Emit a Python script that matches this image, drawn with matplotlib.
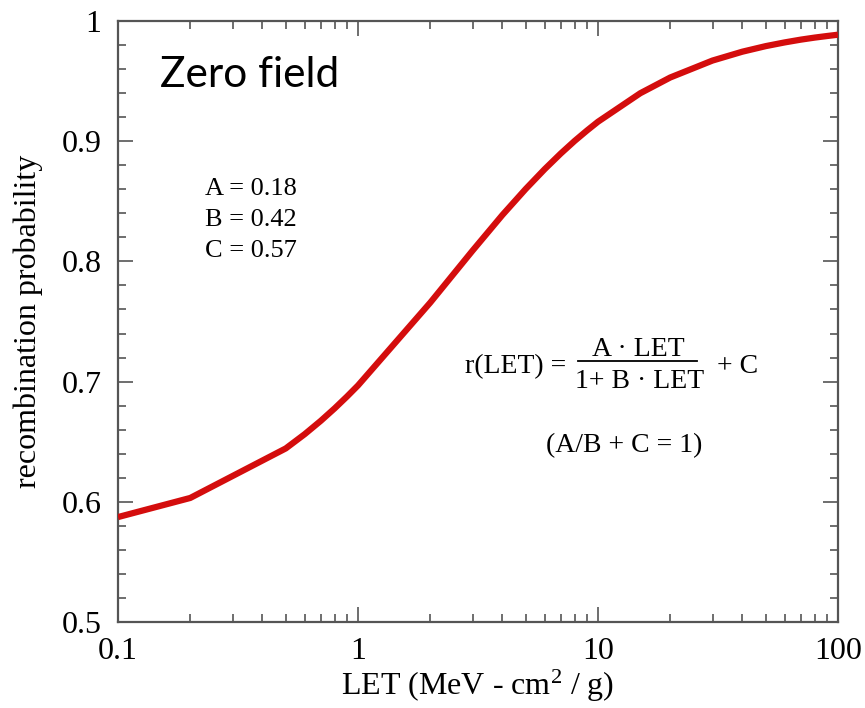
import matplotlib
matplotlib.use("Agg")
import matplotlib.pyplot as plt
from matplotlib.lines import Line2D
from matplotlib.ticker import FixedLocator, NullFormatter, MultipleLocator

# Data
let_values = [0.1, 0.2, 0.5, 0.6, 0.7, 0.8, 0.9, 1, 2, 3, 4, 5, 6, 7, 8, 9, 10,
              15, 20, 30, 40, 50, 60, 70, 80, 90, 100]
recomb_prob = [0.5873, 0.6032, 0.6444, 0.6563, 0.6674, 0.6778, 0.6876, 0.6968,
               0.7657, 0.8089, 0.8387, 0.8603, 0.8768, 0.8898, 0.9003, 0.9089,
               0.9162, 0.9399, 0.9530, 0.9671, 0.9745, 0.9791, 0.9822, 0.9845,
               0.9862, 0.9875, 0.9886]
x_ticks = [0.1, 1, 10, 100]
x_ticklabels = ["0.1", "1", "10", "100"]
y_ticks = [0.5, 0.6, 0.7, 0.8, 0.9, 1.0]
y_ticklabels = ["0.5", "0.6", "0.7", "0.8", "0.9", "1"]
param_lines = ["A = 0.18", "B = 0.42", "C = 0.57"]

plt.rcParams['mathtext.fontset'] = 'custom'
plt.rcParams['mathtext.rm'] = 'Liberation Serif'
plt.rcParams['mathtext.it'] = 'Liberation Serif:italic'

W, H = 865, 708
serif = 'Liberation Serif'
fig = plt.figure(figsize=(W / 100, H / 100), dpi=100)
ax = fig.add_axes([118/W, 1 - 622/H, (838-118)/W, (622-21)/H])

def fx(px):
    return px / W

def fy(py):
    return 1 - py / H

ax.plot(let_values, recomb_prob, color='#d40d0d', lw=4.5, solid_capstyle='butt', zorder=3)
ax.set_xscale('log')
ax.set_xlim(0.1, 100)
ax.set_ylim(0.5, 1.0)

ax.xaxis.set_major_locator(FixedLocator(x_ticks))
ax.set_xticklabels(x_ticklabels)
minors = [m * 10.0**e for e in (-1, 0, 1) for m in range(2, 10)]
ax.xaxis.set_minor_locator(FixedLocator(minors))
ax.xaxis.set_minor_formatter(NullFormatter())
ax.yaxis.set_major_locator(FixedLocator(y_ticks))
ax.set_yticklabels(y_ticklabels)
ax.yaxis.set_minor_locator(MultipleLocator(0.02))

axc = '#555555'
for s in ax.spines.values():
    s.set_color(axc)
    s.set_linewidth(1.6)
ax.tick_params(which='both', direction='in', top=True, right=True, color=axc, width=1.2)
ax.tick_params(which='major', length=11, labelsize=23)
ax.tick_params(axis='x', which='major', pad=11)
ax.tick_params(axis='y', which='major', pad=12)
ax.tick_params(which='minor', length=6)
for lab in ax.get_xticklabels() + ax.get_yticklabels():
    lab.set_fontfamily(serif)

ax.set_xlabel(r'LET (MeV - cm$^2$ / g)', fontsize=23, fontfamily=serif, labelpad=1)
ax.set_ylabel('recombination probability', fontsize=23, fontfamily=serif, labelpad=13)

fig.text(fx(160), fy(87), 'Zero field', fontsize=30.5, fontfamily='Lato',
         ha='left', va='baseline')
for txt, base in zip(param_lines, [195, 226, 257]):
    fig.text(fx(205), fy(base), txt, fontsize=19, fontfamily=serif, va='baseline')

# formula, drawn in pieces
fig.text(fx(465), fy(373), 'r(LET) =', fontsize=20, fontfamily=serif, va='baseline', ha='left')
fig.text(fx(638), fy(356), 'A · LET', fontsize=20, fontfamily=serif, va='baseline', ha='center')
fig.text(fx(640), fy(388), '1+ B · LET', fontsize=20, fontfamily=serif, va='baseline', ha='center')
fig.add_artist(Line2D([fx(578), fx(697)], [fy(361), fy(361)], color='black', lw=1.3,
                      transform=fig.transFigure))
fig.text(fx(717), fy(373), '+ C', fontsize=20, fontfamily=serif, va='baseline', ha='left')
fig.text(fx(624), fy(452), '(A/B + C = 1)', fontsize=20, fontfamily=serif,
         va='baseline', ha='center')

fig.savefig('out.png', dpi=100, facecolor='white')
